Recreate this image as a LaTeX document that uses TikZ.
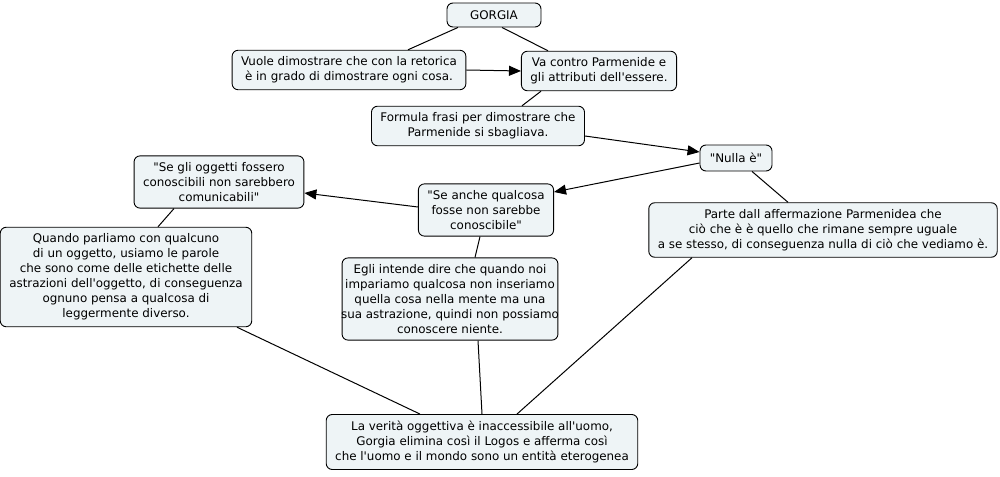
\documentclass[tikz,border=0pt]{standalone}
\usepackage{fontspec}
\newfontfamily\cmapfont{DejaVu Sans}
\usetikzlibrary{arrows.meta}
\definecolor{boxfill}{RGB}{238,244,246}

\tikzset{
	concept/.style={draw=black, line width=0.9pt, fill=boxfill, rounded corners=6pt, align=center,
		inner xsep=9pt, inner ysep=6.5pt, font=\cmapfont\fontsize{11.9}{15}\selectfont},
	link/.style={draw=black, line width=1pt},
	arrowlink/.style={link, -{Triangle[length=12pt,width=10pt]}}
}

\begin{document}
\begin{tikzpicture}[x=1pt,y=-1pt]
	\useasboundingbox (0,0) rectangle (1000,476);
	% concepts
	\node [concept, minimum width=94, minimum height=24] (gorgia) at (494,15) {GORGIA};
	\node [concept] (vuole) at (349,70) {Vuole dimostrare che con la retorica\\è in grado di dimostrare ogni cosa.};
	\node [concept] (vacontro) at (599,71) {Va contro Parmenide e\\gli attributi dell'essere.};
	\node [concept] (formula) at (478,126) {Formula frasi per dimostrare che\\Parmenide si sbagliava.};
	\node [concept, minimum width=72, minimum height=26] (nulla) at (736,158) {"Nulla è"};
	\node [concept] (segli) at (219,182) {"Se gli oggetti fossero\\conoscibili non sarebbero\\comunicabili"};
	\node [concept] (seanche) at (486,210) {"Se anche qualcosa\\fosse non sarebbe\\conoscibile"};
	\node [concept] (parte) at (823,230) {Parte dall affermazione Parmenidea che\\ciò che è è quello che rimane sempre uguale\\a se stesso, di conseguenza nulla di ciò che vediamo è.};
	\node [concept] (quando) at (126,277) {Quando parliamo con qualcuno\\di un oggetto, usiamo le parole\\che sono come delle etichette delle\\astrazioni dell'oggetto, di conseguenza\\ognuno pensa a qualcosa di\\leggermente diverso.};
	\node [concept, inner xsep=-1pt] (egli) at (450,299) {Egli intende dire che quando noi\\impariamo qualcosa non inseriamo\\quella cosa nella mente ma una\\sua astrazione, quindi non possiamo\\conoscere niente.};
	\node [concept] (verita) at (482,442) {La verità oggettiva è inaccessibile all'uomo,\\Gorgia elimina così il Logos e afferma così\\che l'uomo e il mondo sono un entità eterogenea};
	% connections
	\draw [link] ([xshift=-36]gorgia.south) -- ([xshift=59]vuole.north);
	\draw [link] ([xshift=8]gorgia.south) -- ([xshift=-51]vacontro.north);
	\draw [arrowlink] (vuole.east) -- (vacontro.west);
	\draw [link] ([xshift=-58]vacontro.south) -- ([xshift=44]formula.north);
	\draw [arrowlink] ([yshift=-10]formula.east) -- ([yshift=6]nulla.west);
	\draw [arrowlink] ([yshift=-5]nulla.west) -- ([yshift=18]seanche.east);
	\draw [arrowlink] ([yshift=3]seanche.west) -- ([yshift=-11]segli.east);
	\draw [link] ([xshift=16]nulla.south) -- ([xshift=-35]parte.north);
	\draw [link] ([xshift=-6]seanche.south) -- ([xshift=25]egli.north);
	\draw [link] ([xshift=-45]segli.south) -- ([xshift=32]quando.north);
	\draw [link] ([xshift=111]quando.south) -- ([xshift=-62]verita.north);
	\draw [link] ([xshift=28]egli.south) -- (verita.north);
	\draw [link] ([xshift=-131]parte.south) -- ([xshift=35]verita.north);
\end{tikzpicture}
\end{document}
